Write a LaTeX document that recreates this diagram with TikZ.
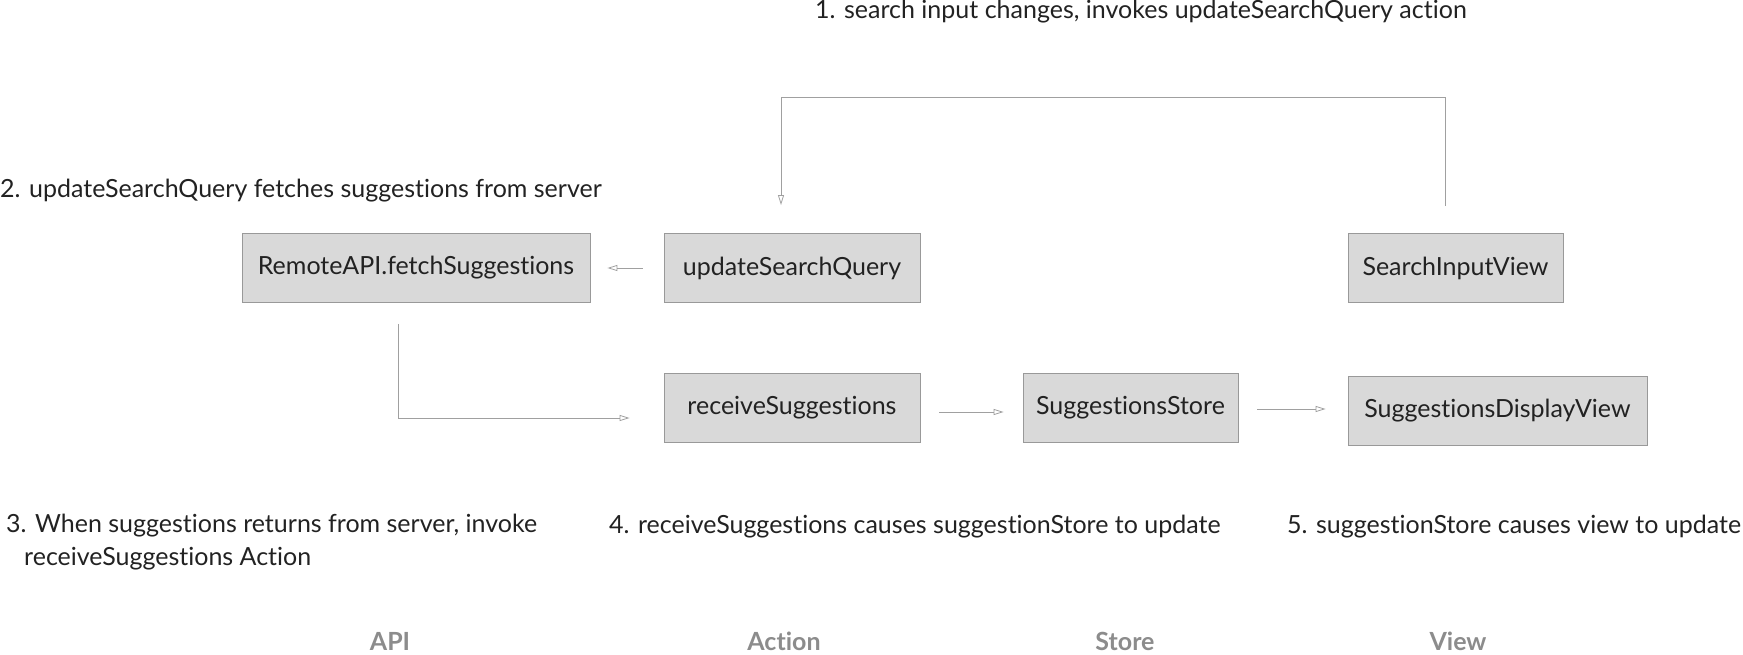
\documentclass[tikz,border=0pt]{standalone}
\usepackage{fontspec}
\setmainfont{Lato}[Ligatures={NoCommon}]
\usetikzlibrary{arrows.meta,positioning}

\definecolor{boxfill}{HTML}{D9D9D9}
\definecolor{boxline}{HTML}{999999}
\definecolor{linegray}{HTML}{A0A0A0}
\definecolor{labelgray}{HTML}{8C8C8C}
\definecolor{textdark}{HTML}{222222}

\begin{document}
\begin{tikzpicture}[
  x=1pt, y=-1pt,
  font=\fontsize{25}{33}\selectfont, text=textdark,
  block/.style={rectangle, draw=boxline, fill=boxfill, line width=0.8pt,
                align=center, minimum height=69pt, inner sep=0pt},
  note/.style={anchor=west, inner sep=0pt, align=left},
  layer/.style={font=\fontsize{25}{30}\selectfont\bfseries, text=labelgray, inner sep=0pt},
  arr/.style={-{Triangle[open, length=10pt, width=6pt]}, draw=linegray, line width=0.8pt},
]
\useasboundingbox (0,0) rectangle (1743,655);

% boxes
\node[block, minimum width=348pt] (remote)  at (416,268)    {RemoteAPI.fetchSuggestions};
\node[block, minimum width=256pt] (update)  at (792,268)    {updateSearchQuery};
\node[block, minimum width=215pt] (input)   at (1455.5,268) {SearchInputView};
\node[block, minimum width=256pt] (receive) at (792,408)    {receiveSuggestions};
\node[block, minimum width=215pt] (store)   at (1130.5,408) {SuggestionsStore};
\node[block, minimum width=299pt] (display) at (1497.5,411) {SuggestionsDisplayView};

% step notes
\node[note] (n1) at (815,12)  {1. search input changes, invokes updateSearchQuery action};
\node[note] (n2) at (0,191)   {2. updateSearchQuery fetches suggestions from server};
\node[note, anchor=north west] (n3) at (6,514) {3. When suggestions returns from server, invoke\\
                                             \hspace*{18pt}receiveSuggestions Action};
\node[note] (n4) at (609,527) {4. receiveSuggestions causes suggestionStore to update};
\node[note] (n5) at (1287,527){5. suggestionStore causes view to update};

% layers
\node[layer] (api)    at (390,641)  {API};
\node[layer] (action) at (784,641)  {Action};
\node[layer] (storel) at (1125,641) {Store};
\node[layer] (view)   at (1458,641) {View};

% flow
\draw[arr] ([xshift=-10pt,yshift=27pt]input.north) -- ++(0,-109)
           -| ([xshift=-11pt,yshift=28pt]update.north);
\draw[arr, shorten <=21pt, shorten >=17pt] (update) -- (remote);
\draw[arr] ([xshift=-18pt,yshift=-21pt]remote.south)
           |- ([xshift=-34pt,yshift=-10pt]receive.west);
\draw[arr] ([xshift=19pt,yshift=-4pt]receive.east) -- ([xshift=-19pt,yshift=-4pt]store.west);
\draw[arr] ([xshift=19pt,yshift=-1pt]store.east) -- ([xshift=-22pt,yshift=2pt]display.west);

\end{tikzpicture}
\end{document}
